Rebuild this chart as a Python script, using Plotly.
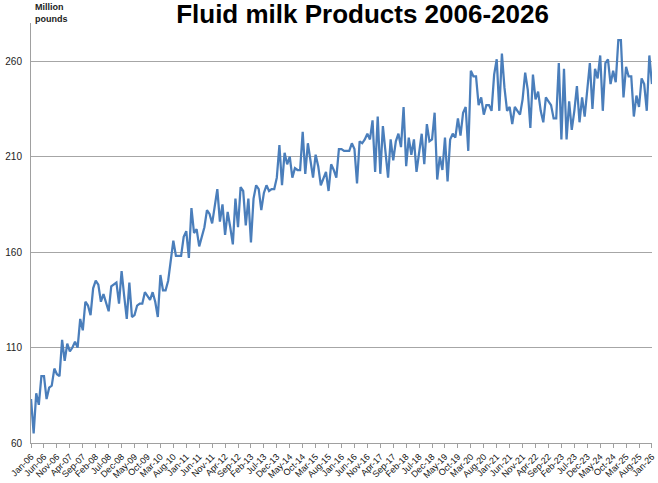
import pandas as pd
import plotly.graph_objects as go

months = [d.strftime("%b-%y") for d in pd.date_range("2006-01-01", periods=241, freq="MS")]

milk = [
    83, 65, 86, 80, 95, 95, 83, 89, 90, 99,
    96, 95, 114, 103, 112, 108, 110, 113, 110, 125,
    119, 134, 132, 127, 141, 145, 143, 134, 138, 133,
    129, 142, 143, 144, 133, 150, 137, 125, 144, 126,
    127, 132, 133, 133, 139, 137, 135, 139, 134, 126,
    148, 140, 140, 145, 155, 166, 158, 158, 158, 168,
    171, 157, 183, 170, 172, 163, 168, 173, 182, 180,
    175, 184, 193, 176, 185, 169, 181, 173, 164, 188,
    173, 194, 192, 174, 188, 165, 188, 195, 193, 182,
    191, 195, 192, 193, 193, 199, 216, 195, 212, 206,
    210, 199, 204, 203, 203, 223, 201, 217, 209, 199,
    211, 205, 195, 199, 202, 192, 206, 203, 199, 214,
    214, 213, 213, 213, 217, 214, 196, 218, 217, 219,
    222, 219, 229, 202, 231, 201, 226, 213, 199, 219,
    208, 218, 222, 215, 236, 205, 220, 211, 219, 202,
    213, 222, 206, 227, 218, 219, 233, 198, 210, 203,
    220, 197, 219, 222, 220, 230, 221, 233, 236, 213,
    255, 252, 252, 237, 241, 232, 237, 237, 234, 253,
    261, 234, 264, 246, 234, 236, 227, 236, 234, 232,
    240, 254, 245, 225, 253, 240, 244, 234, 228, 241,
    239, 237, 230, 230, 259, 219, 256, 219, 239, 224,
    234, 247, 228, 241, 231, 244, 259, 235, 256, 251,
    263, 234, 259, 261, 248, 255, 249, 271, 271, 241,
    257, 252, 252, 231, 242, 236, 251, 248, 234, 263,
    248,
]

tick_idx = list(range(0, 241, 5))
tick_labels = [months[i] for i in tick_idx]
y_ticks = [60, 110, 160, 210, 260]

fig = go.Figure()
fig.add_trace(go.Scatter(
    x=list(range(len(milk))), y=milk, mode="lines",
    line=dict(color="#4A7EBB", width=2.25),
    hoverinfo="skip", showlegend=False,
))

fig.update_layout(
    width=658, height=483,
    margin=dict(l=31, r=6, t=23, b=40),
    paper_bgcolor="white", plot_bgcolor="white",
    font=dict(family="Liberation Sans, Arial, sans-serif", color="#333333"),
    title=dict(
        text="<b>Fluid milk Products 2006-2026</b>",
        x=0.551, xanchor="center", yref="container", y=0.99, yanchor="top",
        pad=dict(t=0, b=0),
        font=dict(size=26, color="#000000", family="Liberation Sans, Arial"),
    ),
    xaxis=dict(
        range=[-0.02, 240.02], tickmode="array", tickvals=tick_idx, ticktext=tick_labels,
        tickangle=-45, tickfont=dict(size=9, color="#111111"),
        ticklabeloverflow="allow", automargin=False,
        showgrid=False, zeroline=False, showline=True, linecolor="#A0A0A0", linewidth=1,
        ticks="outside", ticklen=4, tickcolor="#A0A0A0",
    ),
    yaxis=dict(
        range=[60, 280], tickvals=y_ticks, tickfont=dict(size=10, color="#222222"),
        automargin=False,
        showgrid=True, gridcolor="#A6A6A6", gridwidth=1,
        zeroline=False, showline=True, linecolor="#A0A0A0", linewidth=1,
        ticks="", ticklabelstandoff=6,
    ),
    annotations=[dict(
        text="<b>Million<br>pounds</b>", xref="paper", yref="paper",
        x=0.003, y=1.0, xanchor="left", yanchor="bottom", yshift=-3, showarrow=False,
        align="left", font=dict(size=9, color="#222222"),
    )],
)

fig.write_html("out.html")
